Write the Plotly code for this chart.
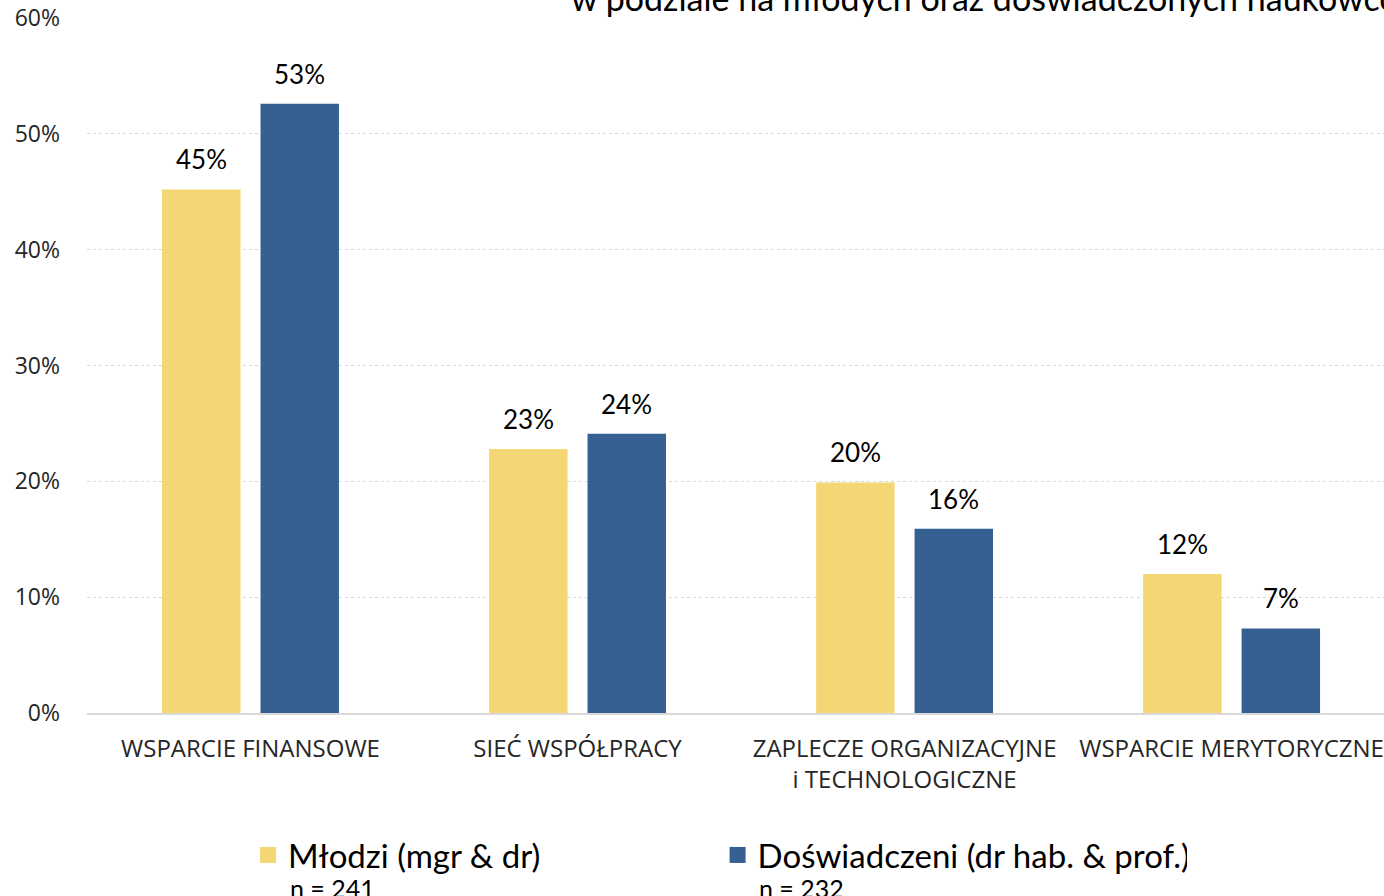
import plotly.graph_objects as go

categories = ["WSPARCIE FINANSOWE", "SIEĆ WSPÓŁPRACY",
              "ZAPLECZE ORGANIZACYJNE<br>i TECHNOLOGICZNE", "WSPARCIE MERYTORYCZNE"]
mlodzi = [45.2, 22.8, 19.9, 12.0]
doswiadczeni = [52.6, 24.1, 15.9, 7.3]
series_names = ["Młodzi (mgr & dr)", "Doświadczeni (dr hab. & prof.)"]
series_n = ["n = 241", "n = 232"]
ytick_vals = [0, 10, 20, 30, 40, 50, 60]
ytick_text = ["0%", "10%", "20%", "30%", "40%", "50%", "60%"]
title_text = "w podziale na młodych oraz doświadczonych naukowców"

YELLOW = "#F4D675"
BLUE = "#366092"
LABEL_FONT = "Lato"
AXIS_FONT = "Open Sans"

fig = go.Figure()
for name, vals, col in [(series_names[0], mlodzi, YELLOW), (series_names[1], doswiadczeni, BLUE)]:
    fig.add_trace(go.Bar(x=categories, y=vals, name=name, marker_color=col,
                         marker_line_width=0, showlegend=False, cliponaxis=False))
    fig.add_trace(go.Scatter(x=[None], y=[None], mode="markers", name=name,
                             marker=dict(symbol="square", size=20, color=col)))

annotations = []
for vals, shift in [(mlodzi, -49), (doswiadczeni, 49)]:
    for c, v in zip(categories, vals):
        annotations.append(dict(x=c, y=v, xref="x", yref="y", text=f"{v:.0f}%",
                                showarrow=False, xshift=shift, yanchor="bottom", yshift=12,
                                font=dict(family=LABEL_FONT, size=26, color="#000000")))

annotations.append(dict(x=0.3717, y=1.0, xref="paper", yref="paper", xanchor="left",
                        yanchor="bottom", yshift=-2, text=title_text, showarrow=False,
                        font=dict(family=LABEL_FONT, size=34, color="#000000")))
for xpos, t in [(0.155, series_n[0]), (0.5165, series_n[1])]:
    annotations.append(dict(x=xpos, y=-0.2273, xref="paper", yref="paper", xanchor="left",
                            yanchor="top", text=t, showarrow=False,
                            font=dict(family=LABEL_FONT, size=25, color="#000000")))

fig.update_layout(
    width=1384, height=896,
    margin=dict(l=87, r=0, t=18, b=183),
    plot_bgcolor="white", paper_bgcolor="white",
    barmode="group", bargap=0.398, bargroupgap=0.203,
    annotations=annotations,
    legend=dict(orientation="h", x=0.1242, xanchor="left", y=-0.2043, yanchor="middle",
                font=dict(family=LABEL_FONT, size=33, color="#000000"),
                entrywidth=424.5, itemclick=False, bgcolor="rgba(0,0,0,0)"),
    xaxis=dict(range=[-0.5, 3.466], showgrid=False, showline=True, linecolor="#D9D9D9",
               linewidth=2, ticks="", ticklabelstandoff=13,
               tickfont=dict(family=AXIS_FONT, size=24, color="#262626")),
    yaxis=dict(range=[0, 60], tickvals=ytick_vals, ticktext=ytick_text,
               showgrid=True, gridcolor="#D9D9D9", griddash="dot", gridwidth=1,
               zeroline=False, ticks="", ticklabelstandoff=26,
               tickfont=dict(family=AXIS_FONT, size=23, color="#262626")),
)

fig.write_html("out.html", config={"displayModeBar": False},
               post_script="document.body.style.margin='0';document.body.style.overflow='hidden';")
